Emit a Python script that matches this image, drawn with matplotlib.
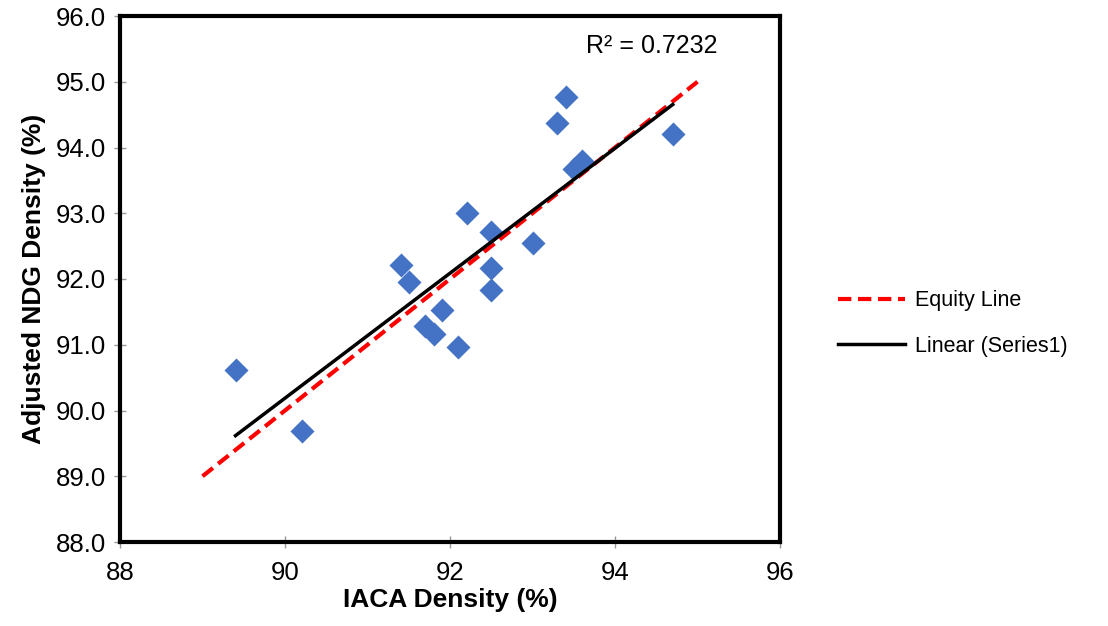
import matplotlib.pyplot as plt
import numpy as np

plt.rcParams['font.family'] = ['Liberation Sans', 'DejaVu Sans']

# data
iaca = [89.4, 90.2, 91.4, 91.5, 91.9, 91.7, 91.8, 92.1, 92.2, 92.5, 92.5, 92.5,
        93.0, 93.3, 93.4, 93.5, 93.6, 94.7]
ndg = [90.62, 89.69, 92.22, 91.96, 91.53, 91.29, 91.17, 90.96, 93.01, 92.71, 92.17, 91.84,
       92.55, 94.37, 94.77, 93.67, 93.80, 94.20]
equity_x = [89, 95]
r2_text = 'R² = 0.7232'

fig = plt.figure(figsize=(11.08, 6.26), dpi=100)
ax = fig.add_axes([120 / 1108, 1 - 542 / 626, 660 / 1108, 526 / 626])

ax.plot(equity_x, equity_x, color='#FF0000', linestyle=(0, (3.2, 1.6)), lw=3,
        label='Equity Line', zorder=2)
ax.scatter(iaca, ndg, marker='D', s=150, color='#4472C4', linewidths=0, zorder=3)

# linear trend line
k, b = np.polyfit(iaca, ndg, 1)
tx = np.array([min(iaca), max(iaca)])
ax.plot(tx, k * tx + b, color='black', lw=2.5, label='Linear (Series1)', zorder=4)

ax.text(0.706, 0.943, r2_text, transform=ax.transAxes, fontsize=18, va='center')

ax.set_xlim(88, 96)
ax.set_ylim(88, 96)
ax.set_xticks([88, 90, 92, 94, 96])
ax.set_yticks(np.arange(88, 96.1, 1.0))
ax.set_yticklabels(['%.1f' % v for v in np.arange(88, 96.1, 1.0)])
ax.tick_params(labelsize=18.5, direction='inout', length=8, color='#999999', width=1)
ax.tick_params(axis='x', pad=10)
ax.tick_params(axis='y', pad=6)
for s in ax.spines.values():
    s.set_linewidth(3)
    s.set_color('black')

ax.set_xlabel('IACA Density (%)', fontsize=19, fontweight='bold', labelpad=2)
ax.set_ylabel('Adjusted NDG Density (%)', fontsize=19, fontweight='bold', labelpad=7)

ax.legend(loc='center left', bbox_to_anchor=(1.059, 0.415), frameon=False,
          fontsize=15.5, handlelength=3.1, handletextpad=0.45, labelspacing=1.14)

fig.savefig('out.png', dpi=100)
